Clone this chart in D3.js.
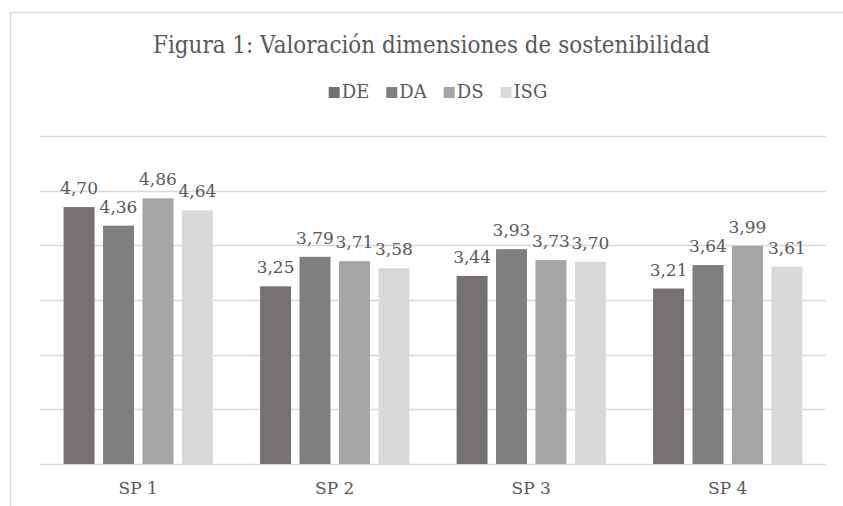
<!DOCTYPE html>
<html>
<head>
<meta charset="utf-8">
<script src="https://cdn.jsdelivr.net/npm/d3@7"></script>
<style>
  html, body { margin: 0; padding: 0; background: #fff; overflow: hidden; }
</style>
</head>
<body>
<div id="chart"></div>
<script>
// datos del gráfico
const categories = ['SP 1', 'SP 2', 'SP 3', 'SP 4'];
const seriesNames = ['DE', 'DA', 'DS', 'ISG'];
const valuesDE = [4.70, 3.25, 3.44, 3.21];
const valuesDA = [4.36, 3.79, 3.93, 3.64];
const valuesDS = [4.86, 3.71, 3.73, 3.99];
const valuesISG = [4.64, 3.58, 3.70, 3.61];
const yTicks = [0, 1, 2, 3, 4, 5, 6];
const title = 'Figura 1: Valoración dimensiones de sostenibilidad';

const width = 843, height = 506;
const serif = '"DejaVu Serif", serif';
const colors = ['#767171', '#7f7f7f', '#a5a5a5', '#d9d9d9'];
const seriesValues = [valuesDE, valuesDA, valuesDS, valuesISG];
const fmt = v => v.toFixed(2).replace('.', ',');

const svg = d3.select('#chart').append('svg')
  .attr('width', width)
  .attr('height', height)
  .style('display', 'block');

// marco del área del gráfico
svg.append('rect')
  .attr('x', 10.5).attr('y', 12.5)
  .attr('width', width + 20).attr('height', height + 20)
  .attr('fill', 'none')
  .attr('stroke', '#d9d9d9')
  .attr('stroke-width', 1.5);

// escalas
const x0 = d3.scaleBand()
  .domain(categories)
  .range([40, 826])
  .paddingInner(0.24)
  .paddingOuter(0.12);

const x1 = d3.scaleBand()
  .domain(seriesNames)
  .range([0, x0.bandwidth()])
  .paddingInner(0.215);

const y = d3.scaleLinear()
  .domain([0, 6])
  .range([464, 136]);

// líneas de cuadrícula
svg.append('g')
  .selectAll('line')
  .data(yTicks)
  .enter()
  .append('line')
  .attr('x1', 40)
  .attr('x2', 826)
  .attr('y1', d => Math.round(y(d)) + 0.5)
  .attr('y2', d => Math.round(y(d)) + 0.5)
  .attr('stroke', '#d9d9d9')
  .attr('stroke-width', 1.5);

// título
svg.append('text')
  .attr('x', 431.5)
  .attr('y', 53)
  .attr('text-anchor', 'middle')
  .attr('fill', '#595959')
  .attr('font-family', serif)
  .style('font-size', '24px')
  .attr('textLength', 557)
  .attr('lengthAdjust', 'spacingAndGlyphs')
  .text(title);

// barras
const groups = svg.append('g')
  .selectAll('g')
  .data(categories)
  .enter()
  .append('g')
  .attr('transform', d => `translate(${x0(d)},0)`);

groups.selectAll('rect')
  .data((c, i) => seriesNames.map((s, j) => ({ s, j, v: seriesValues[j][i] })))
  .enter()
  .append('rect')
  .attr('x', d => x1(d.s))
  .attr('y', d => y(d.v))
  .attr('width', x1.bandwidth())
  .attr('height', d => y(0) - y(d.v))
  .attr('fill', d => colors[d.j]);

// etiquetas de datos
groups.selectAll('text')
  .data((c, i) => seriesNames.map((s, j) => ({ s, j, v: seriesValues[j][i] })))
  .enter()
  .append('text')
  .attr('x', d => x1(d.s) + x1.bandwidth() / 2)
  .attr('y', d => y(d.v) - 13)
  .attr('text-anchor', 'middle')
  .attr('fill', '#595959')
  .attr('font-family', serif)
  .style('font-size', '17px')
  .text(d => fmt(d.v));

// etiquetas del eje x
svg.append('g')
  .selectAll('text')
  .data(categories)
  .enter()
  .append('text')
  .attr('x', d => x0(d) + x0.bandwidth() / 2)
  .attr('y', 494)
  .attr('text-anchor', 'middle')
  .attr('fill', '#595959')
  .attr('font-family', serif)
  .style('font-size', '17px')
  .text(d => d);

// leyenda
const legend = svg.append('g');
const items = legend.selectAll('g')
  .data(seriesNames)
  .enter()
  .append('g');

items.append('rect')
  .attr('width', 11)
  .attr('height', 11)
  .attr('y', 87)
  .attr('fill', (d, i) => colors[i]);

items.append('text')
  .attr('x', 13)
  .attr('y', 98)
  .attr('fill', '#595959')
  .attr('font-family', serif)
  .style('font-size', '18px')
  .text(d => d);

let offset = 0;
const gap = 17;
items.each(function() {
  const w = 13 + d3.select(this).select('text').node().getComputedTextLength();
  d3.select(this).attr('transform', `translate(${offset},0)`);
  offset += w + gap;
});
const totalW = offset - gap;
legend.attr('transform', `translate(${438 - totalW / 2},0)`);
</script>
</body>
</html>
